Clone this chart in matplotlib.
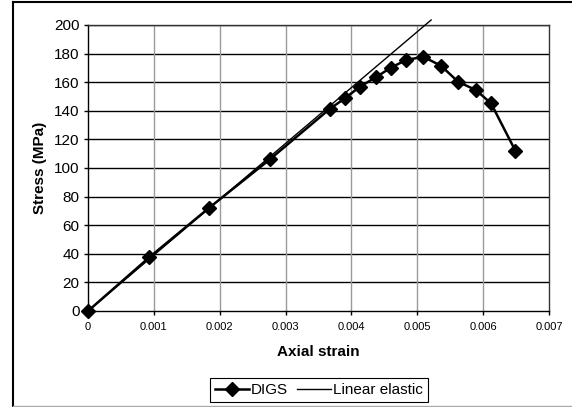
import matplotlib

matplotlib.use("Agg")
import matplotlib.pyplot as plt
from matplotlib.lines import Line2D

plt.rcParams["font.family"] = ["Liberation Sans", "DejaVu Sans"]

# DIGS stress-strain points
strain = [0.0, 0.00093, 0.00183, 0.00276, 0.00367, 0.0039, 0.00413, 0.00437,
          0.0046, 0.00483, 0.00509, 0.00536, 0.00562, 0.00589, 0.00612, 0.00649]
stress = [0.0, 37.5, 71.8, 106.0, 141.3, 148.7, 156.9, 163.4,
          170.2, 175.5, 177.8, 171.5, 160.3, 154.5, 145.2, 112.0]

# linear elastic reference line (E ~ 39 GPa)
elastic_strain = [0.0, 0.00521]
elastic_stress = [0.0, 203.5]

xticks = [0, 0.001, 0.002, 0.003, 0.004, 0.005, 0.006, 0.007]
xticklabels = ["0", "0.001", "0.002", "0.003", "0.004", "0.005", "0.006", "0.007"]
yticks = list(range(0, 201, 20))

fig = plt.figure(figsize=(5.72, 4.07), dpi=100)
ax = fig.add_axes([88 / 572, 96 / 407, 461 / 572, 286 / 407])

ax.plot(elastic_strain, elastic_stress, color="black", lw=1.0,
        clip_on=False, zorder=3)
ax.plot(strain, stress, color="black", lw=1.8, marker="D", ms=7,
        clip_on=False, zorder=4)

ax.set_xlim(0, 0.007)
ax.set_ylim(0, 200)
ax.set_xticks(xticks)
ax.set_xticklabels(xticklabels, fontsize=8)
ax.set_yticks(yticks)
ax.tick_params(axis="y", labelsize=11, length=3, width=1, pad=3)
ax.tick_params(axis="x", length=3, width=1, pad=5)

for y in yticks[1:]:
    ax.axhline(y, color="black", lw=1.0, zorder=1)
for x in xticks[1:-1]:
    ax.axvline(x, color="#9a9a9a", lw=1.0, zorder=1)

for side in ("top", "right"):
    ax.spines[side].set_color("#333333")
for side in ("left", "bottom"):
    ax.spines[side].set_color("black")
for s in ax.spines.values():
    s.set_linewidth(1.0)

ax.set_xlabel("Axial strain", fontsize=11, fontweight="bold", labelpad=9)
ax.set_ylabel("Stress (MPa)", fontsize=11, fontweight="bold", labelpad=5)

handles = [
    Line2D([], [], color="black", lw=1.8, marker="D", ms=7),
    Line2D([], [], color="black", lw=1.0),
]
leg = fig.legend(handles, ["DIGS", "Linear elastic"], loc="center",
                 bbox_to_anchor=(319 / 572, 1 - 390 / 407), ncol=2,
                 fontsize=11, frameon=True, fancybox=False, framealpha=1,
                 edgecolor="black", handlelength=2.2, handletextpad=0.15,
                 columnspacing=0.6, borderpad=0.3, borderaxespad=0)
leg.get_frame().set_linewidth(0.8)

# outer chart border
fig.add_artist(Line2D([13 / 572, 13 / 572], [1 - 1.5 / 407, 1 - 405.5 / 407],
                      color="black", lw=1.5, transform=fig.transFigure))
fig.add_artist(Line2D([13 / 572, 1.0], [1 - 1.5 / 407, 1 - 1.5 / 407],
                      color="black", lw=1.5, transform=fig.transFigure))
fig.add_artist(Line2D([13 / 572, 1.0], [1 - 405.5 / 407, 1 - 405.5 / 407],
                      color="#aaaaaa", lw=1.0, transform=fig.transFigure))

fig.savefig("out.png", dpi=100)
